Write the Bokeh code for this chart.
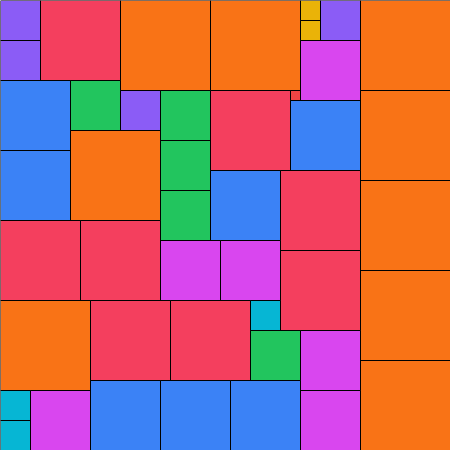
from bokeh.plotting import figure
from bokeh.models import ColumnDataSource
from bokeh.embed import file_html
from bokeh.resources import INLINE

# Square packing: top-left corner (x, y) and side, in units of 10 px (y measured downward)
xs =    [0, 0, 4, 12, 21, 0, 0, 7, 12, 7, 16, 16, 16, 21, 29, 30, 30, 32, 30, 29,
         36, 36, 36, 36, 36, 21, 28, 28, 16, 22, 0, 8, 0, 9, 17, 25, 25, 30, 30,
         0, 0, 3, 9, 16, 23]
ys =    [0, 4, 0, 0, 0, 8, 15, 8, 9, 13, 9, 14, 19, 9, 9, 0, 2, 0, 4, 10,
         0, 9, 18, 27, 36, 17, 17, 25, 24, 24, 22, 22, 30, 30, 30, 30, 33, 33, 39,
         39, 42, 39, 38, 38, 38]
sides = [4, 4, 8, 9, 9, 7, 7, 5, 4, 9, 5, 5, 5, 8, 1, 2, 2, 4, 6, 7,
         9, 9, 9, 9, 9, 7, 8, 8, 6, 6, 8, 8, 9, 8, 8, 3, 5, 6, 6,
         3, 3, 6, 7, 7, 7]

palette = {1: "#ef4444", 2: "#eab308", 3: "#06b6d4", 4: "#8b5cf6", 5: "#22c55e",
           6: "#d946ef", 7: "#3b82f6", 8: "#f43f5e", 9: "#f97316"}

src = ColumnDataSource(dict(
    left=xs,
    right=[x + s for x, s in zip(xs, sides)],
    top=ys,
    bottom=[y + s for y, s in zip(ys, sides)],
    color=[palette[s] for s in sides],
))

p = figure(width=450, height=450, x_range=(0, 45), y_range=(45, 0),
           output_backend="svg", toolbar_location=None, min_border=0)
p.quad(left="left", right="right", top="top", bottom="bottom", source=src,
       fill_color="color", line_color="black", line_width=1)
p.axis.visible = False
p.grid.visible = False
p.outline_line_color = None
p.background_fill_color = "white"
p.border_fill_color = "white"

html = file_html(p, INLINE).replace("<body>", '<body style="margin:0">')
open("out.html", "w").write(html)
